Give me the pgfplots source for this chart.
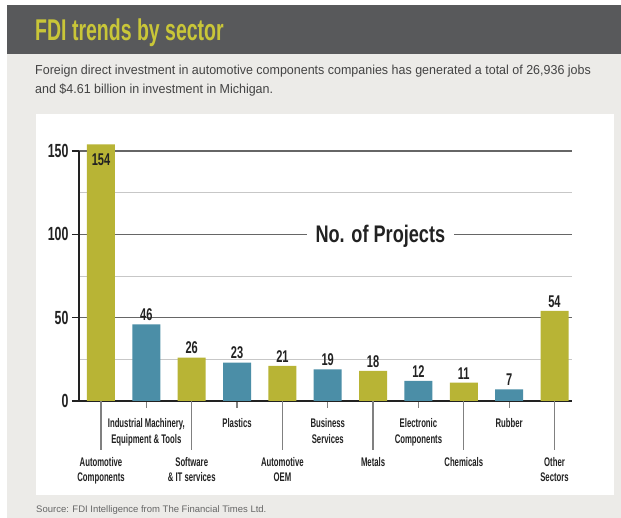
\documentclass[border=0pt]{standalone}
\usepackage{fontspec}
\setmainfont{Liberation Sans}
\newfontfamily\cond{Liberation Sans}[FakeStretch=0.65]
\newfontfamily\condl{Liberation Sans}[FakeStretch=0.62]
\newfontfamily\condw{Liberation Sans}[FakeStretch=0.755]
\newfontfamily\subf{Liberation Sans}[FakeStretch=0.96]
\usepackage{pgfplots}
\pgfplotsset{compat=1.18}

\definecolor{darkbar}{HTML}{58595B}
\definecolor{titley}{HTML}{C9C638}
\definecolor{panelbg}{HTML}{ECEBE8}
\definecolor{olivebar}{HTML}{B8B435}
\definecolor{tealbar}{HTML}{4B8EA7}
\definecolor{ink}{HTML}{222222}

\begin{document}
\begin{tikzpicture}
% page and panels
\fill[white] (0pt,0pt) rectangle (621pt,518pt);
\fill[panelbg] (7pt,0pt) rectangle (621pt,464pt);
\fill[darkbar] (7pt,464pt) rectangle (621pt,513pt);
\fill[white] (36pt,23pt) rectangle (614pt,404pt);

\node[anchor=base west, inner sep=0, text=titley,
      font=\cond\bfseries\fontsize{30}{30}\selectfont] at (35pt,477pt) {FDI trends by sector};
\node[anchor=base west, inner sep=0, text=ink!85,
      font=\subf\fontsize{13}{15}\selectfont] at (35pt,443pt)
  {Foreign direct investment in automotive components companies has generated a total of 26,936 jobs};
\node[anchor=base west, inner sep=0, text=ink!85,
      font=\subf\fontsize{13}{15}\selectfont] at (35pt,424pt)
  {and \$4.61 billion in investment in Michigan.};
\node[anchor=base west, inner sep=0, text=black!60,
      font=\fontsize{9.5}{10}\selectfont] at (36pt,5pt)
  {Source: FDI Intelligence from The Financial Times Ltd.};

\begin{axis}[
    at={(79pt,117pt)}, anchor=south west,
    x=45.35pt, y=1.6667pt,
    xmin=-0.485, xmax=10.386, ymin=0, ymax=150,
    clip=false,
    axis x line*=bottom, axis y line*=left,
    axis line style={draw=ink, line width=1.6pt},
    ybar, bar width=28pt, bar shift=0pt,
    ytick={0,50,100,150}, minor ytick={25,75,125},
    ymajorgrids, yminorgrids,
    major grid style={draw=black!60, line width=1.3pt},
    minor grid style={draw=black!22, line width=0.8pt},
    tick align=outside, major tick length=7pt, minor tick length=0pt,
    ytick style={draw=ink, line width=1.2pt},
    xtick style={draw=black!50, line width=1.2pt},
    /pgf/number format/assume math mode=true,
    yticklabel style={font=\cond\bfseries\fontsize{19}{19}\selectfont, text=ink},
    xtick={1,3,5,7,9},
    xticklabels={{Industrial Machinery,\\Equipment \& Tools},{Plastics},{Business\\Services},{Electronic\\Components},{Rubber}},
    xticklabel style={font=\condl\bfseries\fontsize{12.5}{15.5}\selectfont, align=center, anchor=north, text=ink},
    xticklabel shift=7pt,
    extra x ticks={0,2,4,6,8,10},
    extra x tick labels={{Automotive\\Components},{Software\\\& IT services},{Automotive\\OEM},{Metals},{Chemicals},{Other\\Sectors}},
    extra x tick style={major tick length=49pt, xticklabel shift=3.5pt},
    nodes near coords,
    every node near coord/.append style={font=\cond\bfseries\fontsize{17}{17}\selectfont, text=ink, yshift=\dy pt},
    visualization depends on={\thisrow{dy} \as \dy},
]
\addplot[fill=olivebar, draw=none] table {
x y dy
0 154 -25
2 26 0
4 21 0
6 18 0
8 11 0
10 54 0
};
\addplot[fill=tealbar, draw=none] table {
x y dy
1 46 0
3 23 0
5 19 0
7 12 0
9 7 0
};
\node[anchor=base, fill=white, inner xsep=9pt, inner ysep=2pt, yshift=-8.6pt, text=ink,
      font=\condw\bfseries\fontsize{24}{24}\selectfont] at (axis cs:6.16,100) {No. of Projects};
\end{axis}
\end{tikzpicture}
\end{document}
